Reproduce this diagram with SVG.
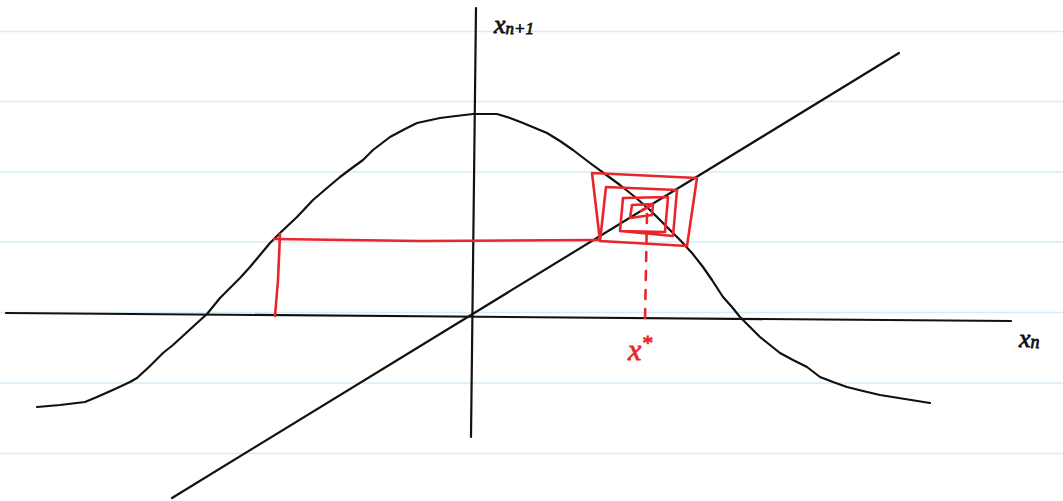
<svg xmlns="http://www.w3.org/2000/svg" width="1063" height="501" viewBox="0 0 1063 501">
<style>
.rule{stroke:#d6ebf7;stroke-width:1.5}
.ink{fill:none;stroke:#111;stroke-width:2.2;stroke-linecap:round;stroke-linejoin:round}
.red{fill:none;stroke:#e8262c;stroke-width:2.6;stroke-linecap:round;stroke-linejoin:round}
.lbl{font-family:"Liberation Serif",serif;font-style:italic;stroke-width:0.8}
</style>
<rect width="1063" height="501" fill="#fff"/>
<g id="paper">
<line class="rule" x1="0" y1="31.5" x2="1063" y2="31.5"/>
<line class="rule" x1="0" y1="101.5" x2="1063" y2="101.5"/>
<line class="rule" x1="0" y1="172" x2="1063" y2="172"/>
<line class="rule" x1="0" y1="242" x2="1063" y2="242"/>
<line class="rule" x1="0" y1="312.5" x2="1063" y2="312.5"/>
<line class="rule" x1="0" y1="383" x2="1063" y2="383"/>
<line class="rule" x1="0" y1="453.5" x2="1063" y2="453.5"/>
</g>
<g id="axes">
<path class="ink" d="M476,8 L471,437"/>
<path class="ink" d="M6,313 L1011,321"/>
<path class="ink" d="M172,498 L899,53"/>
</g>
<g id="curve">
<path class="ink" d="M37,407 L60,405 L85,402 L97,397 L115,389 L130,382 L137,378 L150,366 L163,353 L173,345 L185,334 L197,323 L207,314 L220,298 L230,288 L240,278 L250,267 L260,255 L270,243 L280,233 L297,217 L313,200 L327,188 L340,177 L352,168 L363,160 L373,150 L390,137 L405,129 L417,123 L440,118 L456,116 L473,114 L497,114 L510,118 L523,123 L547,133 L560,141 L573,150 L590,163 L605,174 L620,185 L635,197 L650,210 L665,225 L680,240 L692,253 L703,267 L712,280 L723,297 L732,307 L740,317 L750,327 L760,337 L770,345 L780,353 L793,360 L807,367 L820,377 L833,382 L847,387 L863,391 L880,395 L905,399 L930,403"/>
</g>
<g id="cobweb">
<path class="red" d="M274,239 L420,241 L598,240"/>
<path class="red" d="M280,234 L278,280 L275,316"/>
<path class="red" d="M600,241 L592,173 L697,178 L687,246 L600,241 L606,187 L677,190 L673,236 L620,231 L623,198 L668,197 L665,232 L620,231"/>
<path class="red" d="M632,205 L653,204 L652,215 L630,218 Z"/>
<path class="red" d="M641,211 L650,206" stroke-width="3.5"/>
<path class="red" d="M647,214 L645,320" stroke-dasharray="9,10"/>
</g>
<g id="labels">
<text class="lbl" x="494" y="33" font-size="26" fill="#111" stroke="#111">x<tspan font-size="17" dy="1">n+1</tspan></text>
<text class="lbl" x="1019" y="347" font-size="26" fill="#111" stroke="#111">x<tspan font-size="18" dy="1">n</tspan></text>
<text class="lbl" x="628" y="360" font-size="30" fill="#e8262c" stroke="#e8262c">x<tspan font-size="22" dy="-10">*</tspan></text>
</g>
</svg>
